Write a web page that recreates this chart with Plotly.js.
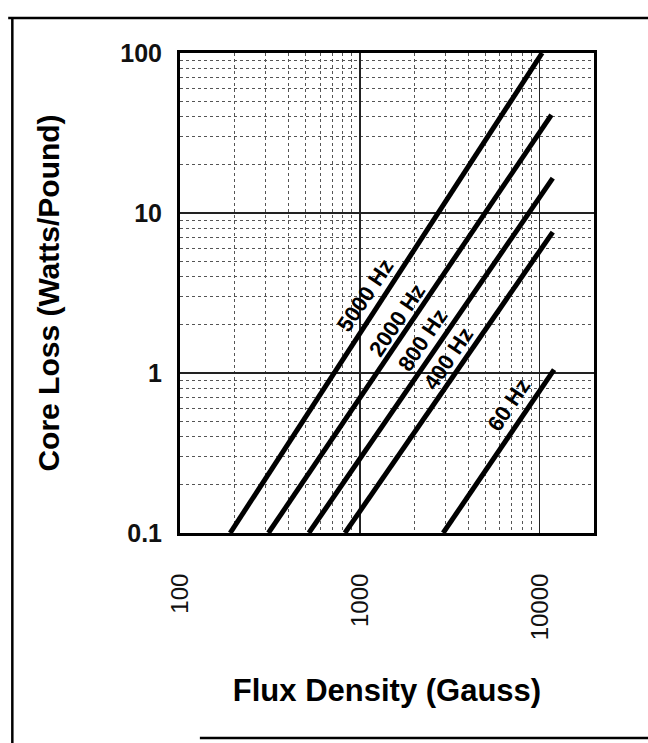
<!DOCTYPE html>
<html><head><meta charset="utf-8">
<script src="https://cdn.plot.ly/plotly-3.0.1.min.js"></script>
<style>html,body{margin:0;padding:0;background:#fff}#chart{width:648px;height:743px}</style>
</head><body><div id="chart"></div>
<script>
const seriesNames = ['5000 Hz', '2000 Hz', '800 Hz', '400 Hz', '60 Hz'];
const flux5000 = [190, 10300];  const loss5000 = [0.1, 100];
const flux2000 = [310, 11600];  const loss2000 = [0.1, 41];
const flux800  = [520, 11800];  const loss800  = [0.1, 16.5];
const flux400  = [825, 11800];  const loss400  = [0.1, 7.6];
const flux60   = [2900, 12000]; const loss60   = [0.1, 1.05];
const labelFlux = [1066, 1600, 2250, 3090, 6670];
const labelLoss = [3.07, 2.14, 1.61, 1.24, 0.63];
const xTickVals = [100, 1000, 10000];
const xTickText = ['100', '1000', '10000'];
const yTickVals = [0.1, 1, 10, 100];
const yTickText = ['0.1', '1', '10', '100'];

const fluxes = [flux5000, flux2000, flux800, flux400, flux60];
const losses = [loss5000, loss2000, loss800, loss400, loss60];
const FONT = 'Liberation Sans, Arial, Helvetica, sans-serif';

const traces = seriesNames.map((n, i) => ({
  type: 'scatter', mode: 'lines', name: n,
  x: fluxes[i], y: losses[i],
  line: {color: '#000', width: 5},
  hoverinfo: 'x+y+name'
}));

const annotations = seriesNames.map((n, i) => ({
  text: n, x: Math.log10(labelFlux[i]), y: Math.log10(labelLoss[i]),
  xref: 'x', yref: 'y', showarrow: false, textangle: -56,
  font: {family: FONT, size: 22, color: '#000', weight: 'bold'}
}));

function frameLine(x0, y0, x1, y1) {
  return {type: 'line', xref: 'paper', yref: 'paper', x0, y0, x1, y1,
          line: {color: '#000', width: 2.5}};
}

const layout = {
  width: 648, height: 743,
  margin: {l: 180, r: 54, t: 53, b: 210},
  paper_bgcolor: '#fff', plot_bgcolor: '#fff',
  showlegend: false,
  font: {family: FONT, color: '#000'},
  xaxis: {
    type: 'log', range: [2, Math.log10(20000)],
    tickmode: 'array', tickvals: xTickVals, ticktext: xTickText,
    tickangle: -90, ticks: '', ticklabelstandoff: 28,
    tickfont: {family: FONT, size: 24, color: '#111'},
    showgrid: true, gridcolor: '#222', gridwidth: 1.3,
    minor: {dtick: 'D1', showgrid: true, gridcolor: '#555', gridwidth: 1, griddash: 'dot', ticks: ''},
    showline: true, linecolor: '#000', linewidth: 3, mirror: true, zeroline: false,
    title: {text: 'Flux Density (Gauss)', standoff: 40,
            font: {family: FONT, size: 31, weight: 'bold', color: '#000'}}
  },
  yaxis: {
    type: 'log', range: [-1, 2],
    tickmode: 'array', tickvals: yTickVals, ticktext: yTickText,
    ticks: '', ticklabelstandoff: 10,
    tickfont: {family: FONT, size: 25, color: '#111', weight: 'bold'},
    showgrid: true, gridcolor: '#222', gridwidth: 1.3,
    minor: {dtick: 'D1', showgrid: true, gridcolor: '#555', gridwidth: 1, griddash: 'dot', ticks: ''},
    showline: true, linecolor: '#000', linewidth: 3, mirror: true, zeroline: false,
    title: {text: 'Core Loss (Watts/Pound)', standoff: 52,
            font: {family: FONT, size: 30, weight: 'bold', color: '#000'}}
  },
  annotations: annotations,
  shapes: [
    frameLine(-0.405, 1.073, -0.405, -0.44),
    frameLine(-0.415, 1.073, 1.14, 1.073),
    frameLine(0.048, -0.427, 1.14, -0.427)
  ]
};

Plotly.newPlot('chart', traces, layout, {displayModeBar: false, staticPlot: true});
</script>
</body></html>
